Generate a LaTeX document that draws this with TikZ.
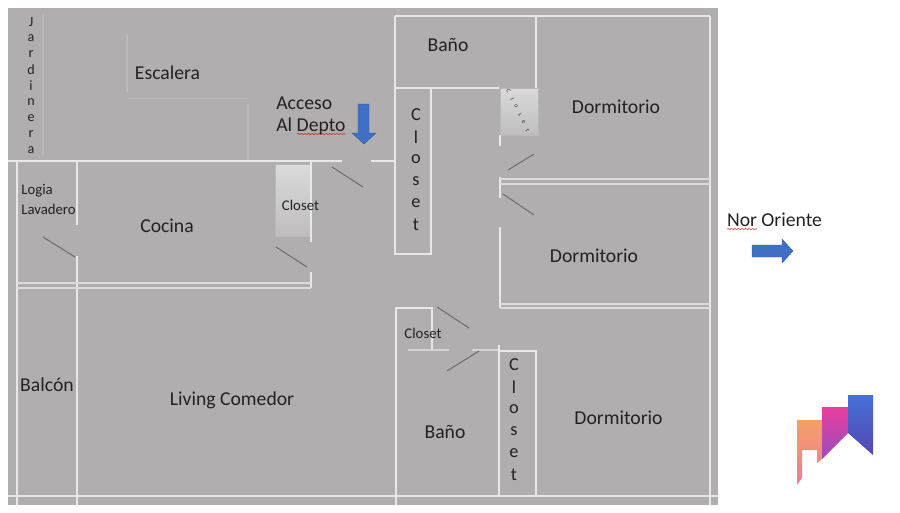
\documentclass[tikz,border=0pt]{standalone}
\usepackage{fontspec}
\setmainfont{Carlito}
\usetikzlibrary{decorations.pathmorphing}
\definecolor{floorgray}{HTML}{B0AEAF}
\definecolor{doorgray}{HTML}{707070}
\definecolor{inkgray}{HTML}{222222}
\definecolor{arrowblue}{HTML}{3F70C4}
\definecolor{logoorange}{HTML}{F2A066}
\definecolor{logopink}{HTML}{EE7C98}
\definecolor{logomagenta}{HTML}{E83E9C}
\definecolor{logopurple}{HTML}{9A4CC0}
\definecolor{logoblue}{HTML}{4470D8}
\definecolor{logoindigo}{HTML}{5648B0}
\tikzset{
  wall/.style={draw=white!72!floorgray, line width=1.1pt},
  thinwall/.style={draw=white!55!floorgray, line width=0.7pt},
  faintwall/.style={draw=white!14!floorgray, line width=0.6pt},
  door/.style={draw=doorgray, line width=0.6pt},
  bigroom/.style={font=\fontsize{11.2}{12}\selectfont, text=inkgray},
  smallroom/.style={font=\fontsize{8.4}{11}\selectfont, text=inkgray, align=left},
  letter/.style={font=\fontsize{10.4}{10}\selectfont, text=inkgray, inner sep=0pt},
  spell/.style={draw=red!80!black, line width=0.3pt, decorate,
    decoration={snake, amplitude=0.25pt, segment length=2pt}},
  closetbox/.style={top color=white!55!floorgray, bottom color=white!18!floorgray, draw=white!12!floorgray, line width=0.3pt},
  bluearrow/.style={fill=arrowblue, draw=arrowblue!80!black, line width=0.2pt}
}
\begin{document}
\begin{tikzpicture}[x=0.02cm, y=-0.02cm]
  \useasboundingbox (0,0) rectangle (900,512);
  % Floor
  \fill[floorgray] (8,8) rectangle (718,505);

  % Faint stair lines
  \draw[faintwall] (43,15) -- (43,155);
  \draw[faintwall] (127,35) -- (127,92);
  \draw[faintwall] (128,98.5) -- (247,98.5);
  \draw[faintwall] (248,104) -- (248,161);

  % Closets with fill
  \path[closetbox] (275,164) rectangle (310,236);
  \path[closetbox] (500,88) rectangle (538,135);

  % Left block
  \draw[wall] (8,161) -- (342,161);
  \draw[wall] (371,161) -- (395,161);
  \draw[wall] (17,161) -- (17,505);
  \draw[wall] (77,161) -- (77,225);
  \draw[wall] (77,256) -- (77,505);
  \draw[wall] (311,161) -- (311,242);
  \draw[wall] (311,272) -- (311,288);
  \draw[thinwall] (17,283) -- (311,283);
  \draw[thinwall] (17,288) -- (311,288);

  % Upper bath and closet
  \draw[wall] (395,16) -- (710,16);
  \draw[wall] (395,16) -- (395,254) -- (431,254) -- (431,88);
  \draw[wall] (395,88) -- (499,88);
  \draw[wall] (536,16) -- (536,88);

  % Bedrooms
  \draw[wall] (710,16) -- (710,505);
  \draw[wall] (500,135) -- (500,146);
  \draw[wall] (500,177) -- (500,198);
  \draw[wall] (500,227) -- (500,308);
  \foreach \y in {179,184,304,308} {
    \draw[thinwall] (500,\y) -- (710,\y);
  }

  % Lower bath and closet
  \draw[wall] (396,505) -- (396,308) -- (432,308) -- (432,350);
  \draw[faintwall, draw=white!45!floorgray] (408,350) -- (449,350);
  \draw[faintwall, draw=white!45!floorgray] (472,350) -- (499,350);
  \draw[wall] (499,345) -- (499,496);
  \draw[wall] (499,351) -- (536,351) -- (536,496);
  \draw[wall] (8,496) -- (718,496);

  % Doors
  \foreach \xa/\ya/\xb/\yb in {332/167/363/187, 43/237/75/257, 276/247/307/267,
      508/170/534/154, 503/194/534/215, 437/307/469/328, 447/371/479/351} {
    \draw[door] (\xa,\ya) -- (\xb,\yb);
  }

  % Room names
  \node[bigroom] (escalera) at (167.5,73) {Escalera};
  \node[bigroom, align=left, anchor=west, inner sep=0pt] (acceso) at (276,103) {Acceso};
  \node[bigroom, align=left, anchor=west, inner sep=0pt] (depto) at (276,126.5) {Al Depto};
  \node[bigroom] (banoA) at (448,45) {Baño};
  \node[bigroom] (dormA) at (616,107) {Dormitorio};
  \node[bigroom] (dormB) at (594,256) {Dormitorio};
  \node[bigroom] (cocina) at (167,226) {Cocina};
  \node[bigroom] (balcon) at (47,385) {Balcón};
  \node[bigroom] (living) at (232,400.5) {Living Comedor};
  \node[bigroom] (banoB) at (445,432) {Baño};
  \node[bigroom] (dormC) at (618.5,418) {Dormitorio};
  \node[bigroom] (nororiente) at (774.5,220) {Nor Oriente};
  \node[smallroom, anchor=west, inner sep=0pt] (logia) at (21,191) {Logia};
  \node[smallroom, anchor=west, inner sep=0pt] (lavadero) at (21,209) {Lavadero};
  \node[smallroom] (closetA) at (300.5,205) {Closet};
  \node[smallroom] (closetB) at (423,333) {Closet};

  % Letters set one under the other
  \foreach \ch [count=\i from 0] in {J,a,r,d,i,n,e,r,a} {
    \node[letter, font=\fontsize{8}{9}\selectfont] (jard\i) at (31,22+16*\i) {\ch};
  }
  \foreach \ch [count=\i from 0] in {C,l,o,s,e,t} {
    \node[letter] (closetC\i) at (416,115+22*\i) {\ch};
    \node[letter] (closetD\i) at (514,365+22*\i) {\ch};
    \node[letter, font=\fontsize{3.4}{4}\selectfont, rotate=-62] (closetE\i) at (508.5+3.8*\i,91+7.8*\i) {\ch};
  }

  % Spell check marks
  \draw[spell] (297,134) -- (345,134);
  \draw[spell] (727,229) -- (757,229);

  % Arrows
  \path[bluearrow] (358,104) -- (369,104) -- (369,133) -- (376,133) -- (364,144) -- (352,133) -- (358,133) -- cycle;
  \path[bluearrow] (752,245) -- (782,245) -- (782,239) -- (793,251) -- (782,263) -- (782,257) -- (752,257) -- cycle;

  % Logo
  \shade[top color=logoorange, bottom color=logopink]
    (797,420) -- (822,420) -- (822,459) -- (817,463) -- (817,450) -- (802,450) -- (802,478) -- (797,485) -- cycle;
  \shade[top color=logomagenta, bottom color=logopurple]
    (822,407) -- (848,407) -- (848,433) -- (822,459) -- cycle;
  \shade[top color=logoblue, bottom color=logoindigo]
    (848,395) -- (873,395) -- (873,455) -- (848,433) -- cycle;
\end{tikzpicture}
\end{document}
